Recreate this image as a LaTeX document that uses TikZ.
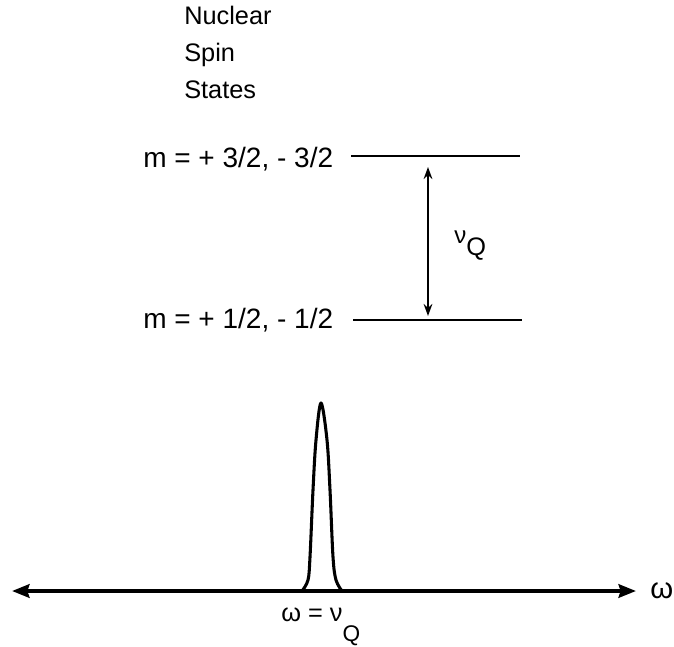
\documentclass[tikz,border=0pt]{standalone}
\usepackage{fontspec}
\setmainfont{Liberation Sans}
\usetikzlibrary{arrows.meta}
\newcommand{\lvlfont}{\fontsize{21}{25}\selectfont}

\begin{document}
\begin{tikzpicture}[x=0.75pt,y=-0.75pt,
    lbl/.style={anchor=base west,inner sep=0pt},
    level/.style={line width=1.6pt},
    gap/.style={line width=1.9pt,{Stealth[length=9pt,width=6.5pt]}-{Stealth[length=9pt,width=6.5pt]}},
    axis/.style={line width=3.6pt,{Stealth[length=13pt,width=10pt,inset=1.5pt]}-{Stealth[length=13pt,width=10pt,inset=1.5pt]}}]
  \useasboundingbox (0,0) rectangle (674,646);
  % title
  \node[lbl,align=left,font=\fontsize{19}{27.4}\selectfont] (title) at (184,98)
     {Nuclear\\Spin\\States};
  % levels
  \node[lbl,font=\lvlfont] (upper) at (143,167) {m = + 3/2, - 3/2};
  \node[lbl,font=\lvlfont] (lower) at (143,328) {m = + 1/2, - 1/2};
  \coordinate (u1) at (351,156); \coordinate (u2) at (520,156);
  \coordinate (l1) at (353,320); \coordinate (l2) at (522,320);
  \draw[level] (u1) -- (u2);
  \draw[level] (l1) -- (l2);
  \coordinate (a1) at (428,167); \coordinate (a2) at (428,316);
  \draw[gap] (a1) -- (a2);
  \node[lbl] (nuQ) at (454,243)
     {{\fontsize{18}{18}\selectfont ν}{\fontsize{19}{19}\selectfont\raisebox{-9pt}{Q}}};
  % spectrum
  \coordinate (axL) at (12,591); \coordinate (axR) at (636,591);
  \draw[axis] (axL) -- (axR);
  \node[lbl,font=\fontsize{22}{22}\selectfont] (omega) at (650,598) {ω};
  \draw[line width=2.3pt,line join=round] plot[smooth,tension=0.55] coordinates
     {(302,591) (308,580) (310,557) (313,490) (316,440) (321,403)
      (327,440) (330,490) (333,557) (336,580) (342,591)};
  \node[lbl,font=\fontsize{19}{19}\selectfont] (res) at (281,621)
     {ω = ν\raisebox{-15pt}{\fontsize{17}{17}\selectfont Q}};
\end{tikzpicture}
\end{document}
